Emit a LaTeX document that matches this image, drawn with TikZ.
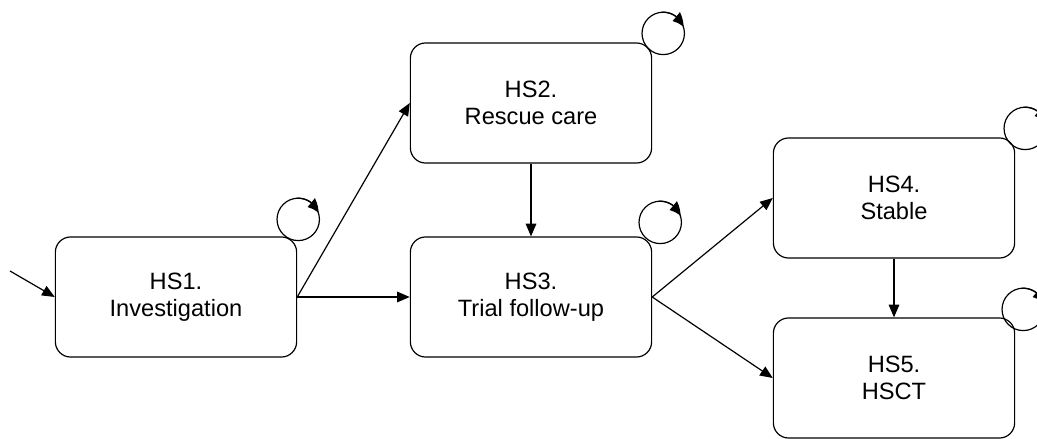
\documentclass[tikz,border=0pt]{standalone}
\usepackage{fontspec}
\setmainfont{Liberation Sans}
\usetikzlibrary{arrows.meta,bending}

\tikzset{
  hsbox/.style={draw, rounded corners=0.38cm, minimum width=6.03cm, minimum height=3.0cm,
    align=center, inner sep=0pt, font=\fontsize{16.8}{19.2}\selectfont},
  >={Triangle[length=9pt,width=7.5pt]},
  looptip/.style={-{Triangle[length=9pt,width=8pt,bend]}},
}

% self-loop above the north east corner of a state
\newcommand{\hsloop}[3]{%
  \draw ([shift={(#2,#3)}]#1.north east) circle (0.53cm);
  \draw[looptip] ([shift={(#2,#3)}]#1.north east) ++(95:0.53cm) arc (95:18:0.53cm);
}

\begin{document}
\begin{tikzpicture}[x=0.025cm, y=-0.025cm, line width=0.85pt]
  \useasboundingbox (0,0) rectangle (1037,439);
  \node[hsbox] (hs1) at (176,297) {HS1.\\Investigation};
  \node[hsbox] (hs2) at (531,103) {HS2.\\Rescue care};
  \node[hsbox] (hs3) at (531,297) {HS3.\\Trial follow-up};
  \node[hsbox] (hs4) at (894,198) {HS4.\\Stable};
  \node[hsbox] (hs5) at (894,378) {HS5.\\HSCT};
  \coordinate (entry) at (10,271);

  \path[->]
  (entry) edge (hs1.west)
  (hs1.east) edge (hs2.west)
  edge (hs3.west)
  (hs2) edge (hs3)
  (hs3.east) edge (hs4.west)
  edge (hs5.west)
  (hs4) edge (hs5);

  \hsloop{hs1}{1}{-17}
  \hsloop{hs2}{11}{-9}
  \hsloop{hs3}{8}{-14}
  \hsloop{hs4}{10}{-9}
  \hsloop{hs5}{8}{-8}
\end{tikzpicture}
\end{document}
